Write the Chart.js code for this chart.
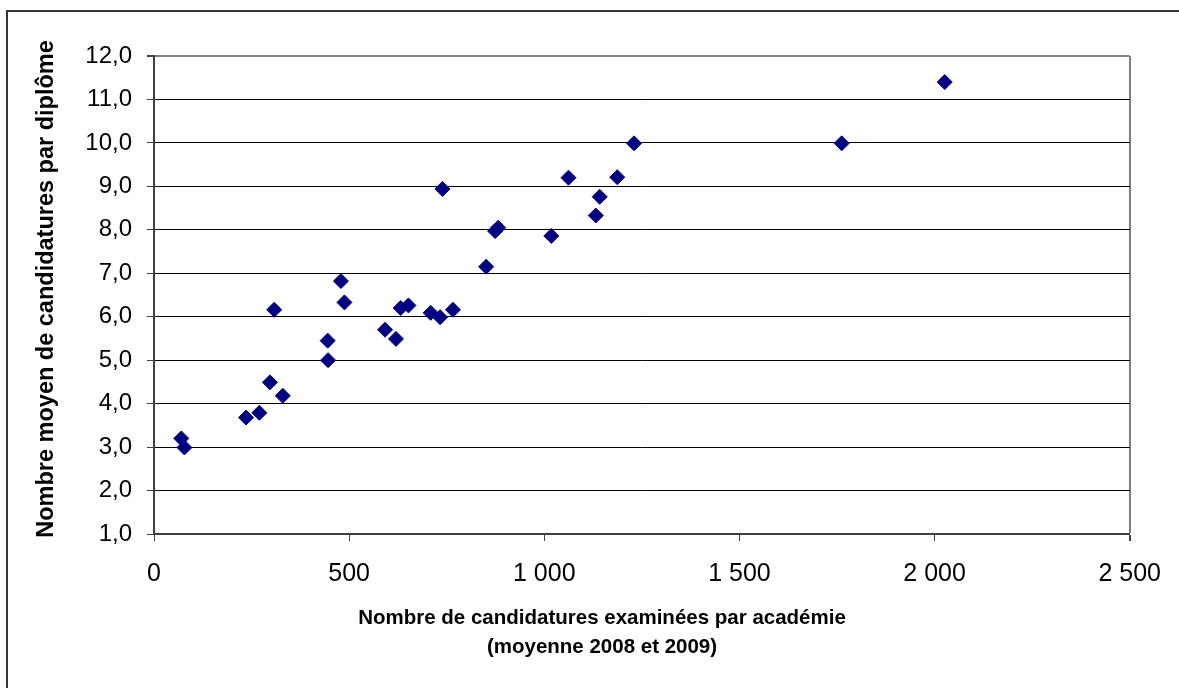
<!DOCTYPE html>
<html>
<head>
<meta charset="utf-8">
<script src="https://cdn.jsdelivr.net/npm/chart.js@4/dist/chart.umd.min.js"></script>
<style>
  html, body { margin: 0; padding: 0; background: #fff; overflow: hidden; }
  #wrap { position: relative; width: 1179px; height: 688px; }
  #frame { position: absolute; left: 6px; top: 10px; width: 1300px; height: 800px; border: 2px solid #333; box-sizing: border-box; }
  canvas { position: absolute; left: 0; top: 0; }
</style>
</head>
<body>
<div id="wrap">
  <div id="frame"></div>
  <canvas id="c" width="1179" height="688"></canvas>
</div>
<script>
// candidatures examinées par académie (moyenne 2008-2009)
const candidatures = [70, 78, 236, 270, 297, 330, 308, 445, 446, 479, 488, 592, 620, 632, 652,
  709, 733, 766, 739, 851, 874, 882, 1018, 1062, 1132, 1142, 1187, 1230, 1762, 2026];
// nombre moyen de candidatures par diplôme
const parDiplome = [3.20, 2.99, 3.68, 3.79, 4.49, 4.18, 6.16, 5.45, 5.0, 6.82, 6.33, 5.70, 5.49, 6.20, 6.26,
  6.09, 5.99, 6.16, 8.94, 7.15, 7.97, 8.05, 7.86, 9.20, 8.33, 8.76, 9.21, 9.99, 9.99, 11.40];

const xTicks = [0, 500, 1000, 1500, 2000, 2500];
const yTicks = [1, 2, 3, 4, 5, 6, 7, 8, 9, 10, 11, 12];

const xTitle = ['Nombre de candidatures examinées par académie', '(moyenne 2008 et 2009)'];
const yTitle = 'Nombre moyen de candidatures par diplôme';

const points = candidatures.map((v, i) => ({ x: v, y: parDiplome[i] }));

const axisTitles = {
  id: 'axisTitles',
  afterDraw(chart) {
    const ctx = chart.ctx;
    const a = chart.chartArea;
    ctx.save();
    ctx.fillStyle = '#000';
    ctx.textAlign = 'center';
    ctx.textBaseline = 'middle';
    ctx.font = 'bold 20.5px "Liberation Sans", Arial, sans-serif';
    ctx.fillText(xTitle[0], 602, a.bottom + 84);
    ctx.fillText(xTitle[1], 602, a.bottom + 113);
    ctx.translate(47, 289);
    ctx.rotate(-Math.PI / 2);
    ctx.font = 'bold 23.5px "Liberation Sans", Arial, sans-serif';
    ctx.fillText(yTitle, 0, 0);
    ctx.restore();
  }
};

new Chart(document.getElementById('c'), {
  type: 'scatter',
  data: {
    datasets: [{
      data: points,
      pointStyle: 'rectRot',
      pointRadius: 7.5,
      pointHoverRadius: 7.5,
      backgroundColor: '#000080',
      borderColor: '#000080',
      borderWidth: 1
    }]
  },
  options: {
    responsive: false,
    animation: false,
    layout: { padding: { top: 56, right: 48, left: 0, bottom: 0 } },
    plugins: { legend: { display: false }, tooltip: { enabled: false } },
    scales: {
      x: {
        type: 'linear',
        min: 0, max: 2500,
        afterBuildTicks: s => { s.ticks = xTicks.map(v => ({ value: v })); },
        afterFit: s => { s.height = 154; },
        border: { color: '#404040', width: 2 },
        grid: {
          color: c => c.tick && c.tick.value === 2500 ? '#808080' : 'rgba(0,0,0,0)',
          lineWidth: c => c.tick && c.tick.value === 2500 ? 2 : 1,
          tickColor: '#404040',
          tickLength: 7
        },
        ticks: {
          color: '#000',
          padding: 18,
          maxRotation: 0,
          font: { family: '"Liberation Sans", Arial, sans-serif', size: 25 },
          callback: v => String(v).replace(/\B(?=(\d{3})+(?!\d))/g, ' ')
        }
      },
      y: {
        type: 'linear',
        min: 1, max: 12,
        afterBuildTicks: s => { s.ticks = yTicks.map(v => ({ value: v })); },
        afterFit: s => { s.width = 154; },
        border: { color: '#404040', width: 2 },
        grid: {
          color: c => c.tick && c.tick.value === 12 ? '#808080' : '#000',
          lineWidth: c => c.tick && c.tick.value === 12 ? 2 : 1,
          tickColor: '#404040',
          tickLength: 7
        },
        ticks: {
          color: '#000',
          padding: 15,
          font: { family: '"Liberation Sans", Arial, sans-serif', size: 24 },
          callback: v => v.toFixed(1).replace('.', ',')
        }
      }
    }
  },
  plugins: [axisTitles]
});
</script>
</body>
</html>
